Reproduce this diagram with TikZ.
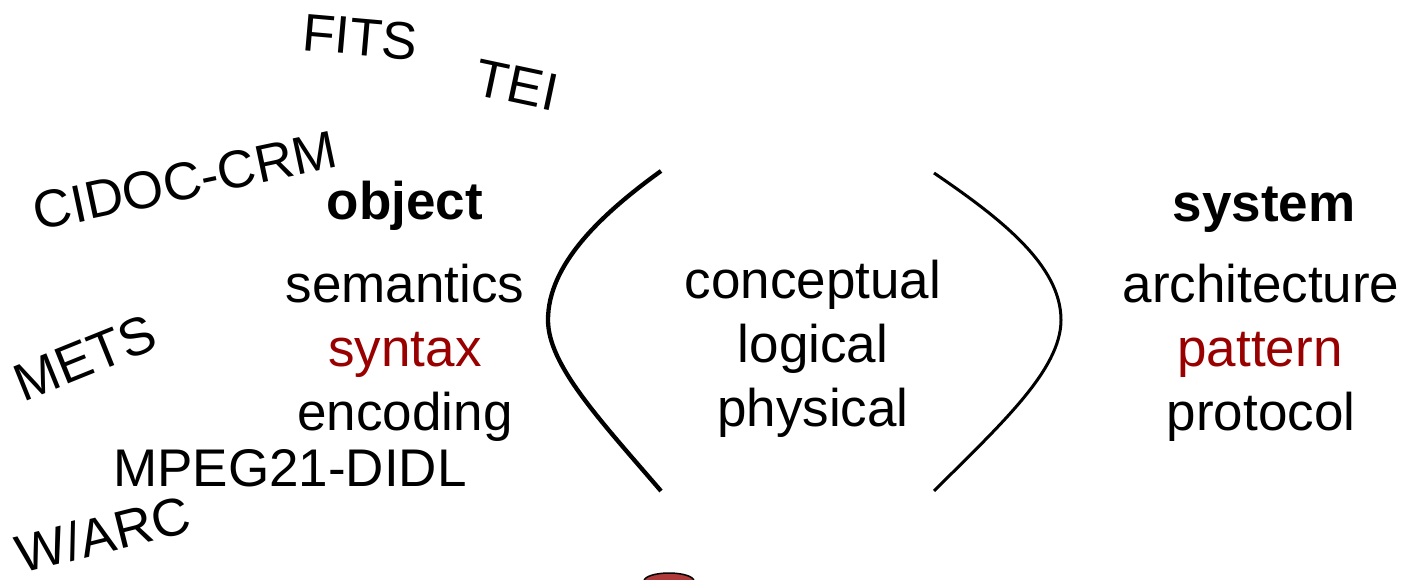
\documentclass[tikz,border=0pt]{standalone}
\usepackage{fontspec}
\setmainfont{Liberation Sans}
\definecolor{darkred}{RGB}{153,0,0}
\definecolor{drumred}{RGB}{176,58,58}
\tikzset{
  word/.style={inner sep=0pt, anchor=base, font=\fontsize{53}{53}\selectfont},
  head/.style={word, font=\fontsize{53}{53}\selectfont\bfseries},
  tag/.style={inner sep=0pt, font=\fontsize{53}{53}\selectfont},
}
\begin{document}
\begin{tikzpicture}[x=1pt,y=-1pt]
  \useasboundingbox (0,0) rectangle (1405,580);
  % Standards round the object column
  \node[tag, rotate=-5] (fits) at (360,37) {FITS};
  \node[tag, rotate=-12] (tei) at (517,85) {TEI};
  \node[tag, rotate=12] (cidoc) at (185,181) {CIDOC-CRM};
  \node[tag, rotate=22] (mets) at (85,358) {METS};
  \node[tag] (mpeg) at (290,468) {MPEG21-DIDL};
  \node[tag, rotate=14] (warc) at (103,534) {W/ARC};

  % Left column
  \node[head] (object) at (405,219) {object};
  \node[word] (semantics) at (405,302) {semantics};
  \node[word, text=darkred] (syntax) at (405,366) {syntax};
  \node[word] (encoding) at (405,430) {encoding};

  % Middle column
  \node[word] (conceptual) at (813,298) {conceptual};
  \node[word] (logical) at (813,362) {logical};
  \node[word] (physical) at (813,426) {physical};

  % Right column
  \node[head] (system) at (1264,222) {system};
  \node[word] (architecture) at (1261,302) {architecture};
  \node[word, text=darkred] (pattern) at (1260,366) {pattern};
  \node[word] (protocol) at (1261,430) {protocol};

  % Brackets
  \draw[line width=4.3pt] (661,171) .. controls (600,215) and (548,265) .. (548,320) .. controls (548,365) and (600,420) .. (661,491);
  \draw[line width=3pt] (934,173) .. controls (1000,218) and (1061,265) .. (1061,320) .. controls (1061,370) and (1000,425) .. (934,491);

  % Drum cut off at the bottom
  \draw[fill=drumred, line width=1.5pt] (669,581) ellipse [x radius=25, y radius=8];
\end{tikzpicture}
\end{document}
